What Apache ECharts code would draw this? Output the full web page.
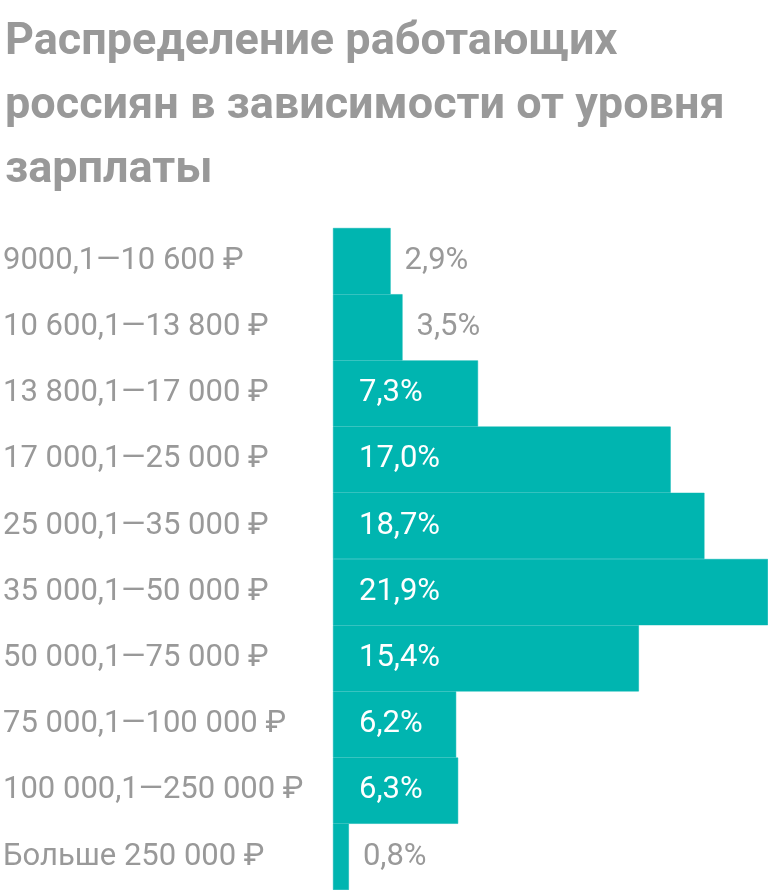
<!DOCTYPE html>
<html><head><meta charset="utf-8">
<script src="https://cdn.jsdelivr.net/npm/echarts@6/dist/echarts.min.js"></script>
<style>body{margin:0;background:#fff}#c{width:768px;height:890px}</style>
</head><body><div id="c"></div>
<script>
var categories = ["9000,1—10 600 ₽", "10 600,1—13 800 ₽", "13 800,1—17 000 ₽", "17 000,1—25 000 ₽",
  "25 000,1—35 000 ₽", "35 000,1—50 000 ₽", "50 000,1—75 000 ₽", "75 000,1—100 000 ₽",
  "100 000,1—250 000 ₽", "Больше 250 000 ₽"];
var shares = [2.9, 3.5, 7.3, 17.0, 18.7, 21.9, 15.4, 6.2, 6.3, 0.8];

var dom = document.getElementById("c");
var myChart = echarts.init(dom);

var data = shares.map(function (v) {
    var small = v < 5;
    return {
        value: v,
        label: {
            position: small ? 'right' : 'insideLeft',
            distance: small ? 14 : 26,
            color: small ? '#999' : '#fff'
        }
    };
});

var option = {
    animation: false,
    title: {
        text: 'Распределение работающих\nроссиян в зависимости от уровня\nзарплаты',
        left: 0, top: 6,
        textStyle: {fontFamily: 'Roboto', fontWeight: 'bold', fontSize: 45, lineHeight: 64, color: '#999'}
    },
    grid: {left: 332, right: 0, top: 228, bottom: 0},
    xAxis: {type: 'value', min: 0, max: 21.9, show: false},
    yAxis: {
        type: 'category', data: categories, inverse: true,
        axisLine: {show: false}, axisTick: {show: false},
        axisLabel: {align: 'left', margin: 330, color: '#999', fontFamily: 'Roboto', fontSize: 31, padding: [8, 0, 0, 0]}
    },
    series: [{
        type: 'bar', data: data, barCategoryGap: 0,
        itemStyle: {color: '#00b5b0', borderColor: '#00b5b0', borderWidth: 0.5},
        label: {
            show: true, fontFamily: 'Roboto', fontSize: 31,
            formatter: function (p) { return p.value.toFixed(1).replace('.', ',') + '%'; }
        }
    }]
};
myChart.setOption(option, true);
</script></body></html>
